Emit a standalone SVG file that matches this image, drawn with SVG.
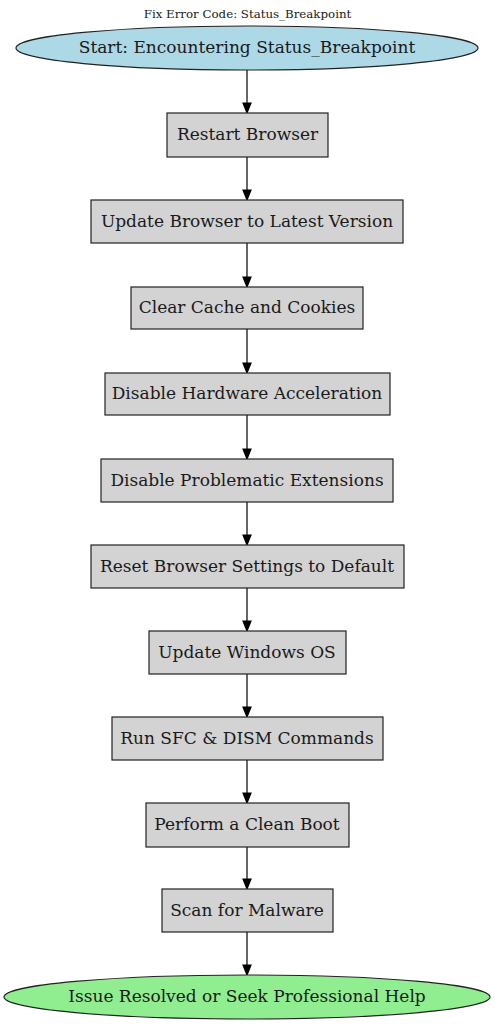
<svg xmlns="http://www.w3.org/2000/svg" width="495" height="1024" viewBox="0 0 495 1024">
<defs>
<style>
text{font-family:"DejaVu Serif","Liberation Serif",serif;fill:#1a1a1a;text-anchor:middle;dominant-baseline:central}
.n{font-size:17px}
.box{fill:#d3d3d3;stroke:#222;stroke-width:1.2}
</style>
</defs>
<rect width="495" height="1024" fill="#fff"/>
<text x="247.5" y="14" font-size="11.8">Fix Error Code: Status_Breakpoint</text>
<g id="connectors">
<g fill="#000" stroke="#000" stroke-width="1.2">
<line x1="247" y1="70" x2="247" y2="103"/><polygon points="243,103 251,103 247,113"/>
<line x1="247" y1="157" x2="247" y2="190"/><polygon points="243,190 251,190 247,200"/>
<line x1="247" y1="243" x2="247" y2="277"/><polygon points="243,277 251,277 247,287"/>
<line x1="247" y1="329" x2="247" y2="363"/><polygon points="243,363 251,363 247,373"/>
<line x1="247" y1="415" x2="247" y2="449"/><polygon points="243,449 251,449 247,459"/>
<line x1="247" y1="502" x2="247" y2="535"/><polygon points="243,535 251,535 247,545"/>
<line x1="247" y1="588" x2="247" y2="621"/><polygon points="243,621 251,621 247,631"/>
<line x1="247" y1="674" x2="247" y2="707"/><polygon points="243,707 251,707 247,717"/>
<line x1="247" y1="760" x2="247" y2="793"/><polygon points="243,793 251,793 247,803"/>
<line x1="247" y1="847" x2="247" y2="879"/><polygon points="243,879 251,879 247,889"/>
<line x1="247" y1="932" x2="247" y2="965"/><polygon points="243,965 251,965 247,975"/>
</g>
</g>
<g id="start"><ellipse cx="247" cy="48" rx="231" ry="22" fill="#add8e6" stroke="#222" stroke-width="1.2"/><text class="n" x="247" y="47">Start: Encountering Status_Breakpoint</text></g>
<g id="n1"><rect class="box" x="167" y="113" width="161" height="44"/><text class="n" x="247.5" y="134">Restart Browser</text></g>
<g id="n2"><rect class="box" x="91" y="200" width="312" height="43"/><text class="n" x="247" y="220.5">Update Browser to Latest Version</text></g>
<g id="n3"><rect class="box" x="131" y="287" width="232" height="42"/><text class="n" x="247" y="307">Clear Cache and Cookies</text></g>
<g id="n4"><rect class="box" x="105" y="373" width="285" height="42"/><text class="n" x="247" y="393">Disable Hardware Acceleration</text></g>
<g id="n5"><rect class="box" x="101" y="459" width="292" height="43"/><text class="n" x="247" y="479.5">Disable Problematic Extensions</text></g>
<g id="n6"><rect class="box" x="91" y="545" width="313" height="43"/><text class="n" x="247" y="565.5">Reset Browser Settings to Default</text></g>
<g id="n7"><rect class="box" x="149" y="631" width="197" height="43"/><text class="n" x="247" y="651.5">Update Windows OS</text></g>
<g id="n8"><rect class="box" x="112" y="717" width="271" height="43"/><text class="n" x="247" y="737.5">Run SFC &amp; DISM Commands</text></g>
<g id="n9"><rect class="box" x="146" y="803" width="203" height="44"/><text class="n" x="247" y="824">Perform a Clean Boot</text></g>
<g id="n10"><rect class="box" x="162" y="889" width="171" height="43"/><text class="n" x="247" y="909.5">Scan for Malware</text></g>
<g id="end"><ellipse cx="247" cy="997" rx="243" ry="22" fill="#90ee90" stroke="#222" stroke-width="1.2"/><text class="n" x="247" y="996">Issue Resolved or Seek Professional Help</text></g>
</svg>
